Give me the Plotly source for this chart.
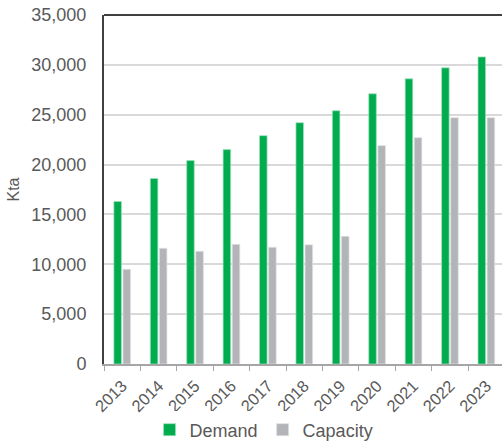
import plotly.graph_objects as go

# Annual demand vs. capacity, kilotonnes per annum
years = ["2013", "2014", "2015", "2016", "2017", "2018", "2019", "2020", "2021", "2022", "2023"]
demand = [16300, 18600, 20400, 21500, 22900, 24200, 25400, 27100, 28600, 29700, 30800]
capacity = [9500, 11600, 11300, 12000, 11700, 11950, 12800, 21900, 22700, 24700, 24700]

y_ticks = [0, 5000, 10000, 15000, 20000, 25000, 30000, 35000]

GREEN = "#00AC4E"
GREY = "#B3B4B8"
TEXT = "#595959"
FONT = "Liberation Sans, Arial, sans-serif"

fig = go.Figure()
fig.add_trace(go.Bar(
    name="Demand", x=years, y=demand,
    marker=dict(color=GREEN, line=dict(color="rgba(160,225,190,0.9)", width=0.8)),
))
fig.add_trace(go.Bar(
    name="Capacity", x=years, y=capacity,
    marker=dict(color=GREY, line=dict(color="rgba(225,225,228,0.9)", width=0.8)),
))

fig.update_layout(
    width=502, height=441,
    margin=dict(l=104, r=0, t=15, b=77),
    paper_bgcolor="white", plot_bgcolor="white",
    barmode="group", bargap=0.5, bargroupgap=0.17,
    font=dict(family=FONT, color=TEXT),
    showlegend=True,
    legend=dict(
        orientation="h",
        xref="container", yref="container",
        x=0.526, y=0.025, xanchor="center", yanchor="middle",
        font=dict(size=18, color=TEXT),
        itemwidth=30, traceorder="normal",
    ),
    shapes=[dict(
        type="line", xref="paper", yref="paper",
        x0=0, x1=1, y0=1, y1=1,
        line=dict(color="#404040", width=2),
    )],
)

fig.update_xaxes(
    type="category",
    range=[-0.5, 10.43],
    automargin=False,
    tickangle=-45,
    tickson="boundaries",
    ticks="outside", ticklen=5, tickcolor="#A6A6A6", tickwidth=1,
    showline=True, linecolor="#A6A6A6", linewidth=1.5,
    showgrid=False,
    tickfont=dict(size=16.5, color=TEXT),
    ticklabelstandoff=4,
)

fig.update_yaxes(
    range=[0, 35000],
    automargin=False,
    tickvals=y_ticks,
    tickformat=",",
    tickfont=dict(size=18, color=TEXT),
    ticklabelstandoff=12,
    showline=True, linecolor="#404040", linewidth=2,
    showgrid=True, gridcolor="#D9D9D9", gridwidth=1.5,
    zeroline=False,
    title=dict(text="Kta", font=dict(size=16, color=TEXT), standoff=8),
)

fig.write_html("out.html")
